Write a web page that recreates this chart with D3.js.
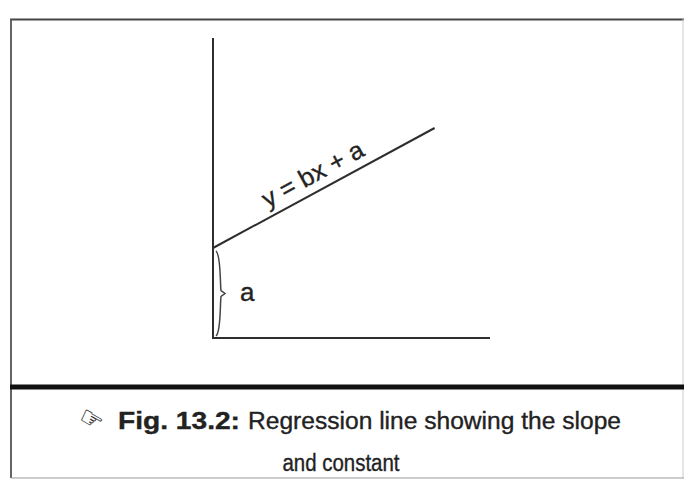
<!DOCTYPE html>
<html>
<head>
<meta charset="utf-8">
<script src="https://cdn.jsdelivr.net/npm/d3@7"></script>
<style>
  html, body { margin: 0; padding: 0; background: #fff; }
  svg { display: block; }
  text { font-family: "Liberation Sans", Arial, Helvetica, sans-serif; fill: #222; stroke: #222; stroke-width: 0.35px; }
</style>
</head>
<body>
<svg id="chart" width="684" height="480"></svg>
<script>
// ---- data ----
const xDomain = [0, 10];
const yDomain = [0, 10];
const intercept = 3;      // a
const slope = 0.5;        // b
const lineXRange = [0, 8];
const equationLabel = "y = bx + a";
const interceptLabel = "a";
const captionBold = "Fig. 13.2:";
const captionRest = "Regression line showing the slope";
const captionLine2 = "and constant";

const svg = d3.select("#chart");
const ink = "#2e2e2e";

// ---- frame ----
svg.append("rect").attr("x", 0).attr("y", 0).attr("width", 684).attr("height", 480).attr("fill", "#fff");
svg.append("line").attr("x1", 10).attr("x2", 684).attr("y1", 19.5).attr("y2", 19.5)
  .attr("stroke", "#444").attr("stroke-width", 2.2);
svg.append("line").attr("x1", 11).attr("x2", 11).attr("y1", 19).attr("y2", 478)
  .attr("stroke", "#555").attr("stroke-width", 1.8);
svg.append("line").attr("x1", 683).attr("x2", 683).attr("y1", 19).attr("y2", 478)
  .attr("stroke", "#ccc").attr("stroke-width", 1);
svg.append("line").attr("x1", 11).attr("x2", 684).attr("y1", 478).attr("y2", 478)
  .attr("stroke", "#999").attr("stroke-width", 1);
svg.append("line").attr("x1", 10).attr("x2", 684).attr("y1", 387).attr("y2", 387)
  .attr("stroke", "#111").attr("stroke-width", 5);

// ---- scales ----
const x = d3.scaleLinear().domain(xDomain).range([213, 490]);
const y = d3.scaleLinear().domain(yDomain).range([338, 38]);

// axes (plain lines, no ticks)
const g = svg.append("g");
g.append("line").attr("x1", x(0)).attr("x2", x(0)).attr("y1", y(yDomain[1])).attr("y2", y(0))
  .attr("stroke", ink).attr("stroke-width", 2);
g.append("line").attr("x1", x(0) - 1).attr("x2", x(xDomain[1])).attr("y1", y(0)).attr("y2", y(0))
  .attr("stroke", ink).attr("stroke-width", 2);

// regression line
const pts = lineXRange.map(v => [v, intercept + slope * v]);
g.append("path")
  .attr("d", d3.line().x(d => x(d[0])).y(d => y(d[1]))(pts))
  .attr("stroke", ink).attr("stroke-width", 2).attr("fill", "none");

// equation label along the line
const angle = Math.atan2(y(pts[1][1]) - y(pts[0][1]), x(pts[1][0]) - x(pts[0][0])) * 180 / Math.PI;
const lx = 3.9, ly = intercept + slope * lx;
g.append("text")
  .attr("transform", `translate(${x(lx)},${y(ly)}) rotate(${angle}) translate(0,-9)`)
  .attr("text-anchor", "middle")
  .attr("font-size", 25)
  .attr("textLength", 112).attr("lengthAdjust", "spacingAndGlyphs")
  .text(equationLabel);

// brace for intercept
const bx = x(0) + 3, bTop = y(intercept) + 3, bBot = y(0) - 2, bMid = (bTop + bBot) / 2;
g.append("path")
  .attr("d", `M${bx},${bTop} C${bx + 5},${bTop + 4} ${bx + 4},${bMid - 10} ${bx + 5},${bMid - 3}
              L${bx + 9},${bMid} L${bx + 5},${bMid + 3}
              C${bx + 4},${bMid + 10} ${bx + 5},${bBot - 4} ${bx},${bBot}`)
  .attr("stroke", "#444").attr("stroke-width", 1.5).attr("fill", "none");
g.append("text")
  .attr("x", x(0) + 27).attr("y", y(intercept / 2) + 8)
  .attr("font-size", 26)
  .text(interceptLabel);

// ---- caption ----
svg.append("text").attr("x", 80).attr("y", 427).attr("font-size", 26)
  .attr("font-family", "DejaVu Sans").attr("fill", "#333").style("stroke-width", "0.2px")
  .attr("transform", "rotate(30,90,418)")
  .text("☞");
svg.append("text").attr("x", 118).attr("y", 429).attr("font-size", 23).attr("font-weight", "bold")
  .attr("textLength", 122).attr("lengthAdjust", "spacingAndGlyphs")
  .text(captionBold);
svg.append("text").attr("x", 248).attr("y", 429).attr("font-size", 23)
  .attr("textLength", 373).attr("lengthAdjust", "spacingAndGlyphs")
  .text(captionRest);
svg.append("text").attr("x", 341).attr("y", 471).attr("font-size", 23)
  .attr("text-anchor", "middle")
  .attr("textLength", 117).attr("lengthAdjust", "spacingAndGlyphs")
  .text(captionLine2);
</script>
</body>
</html>
